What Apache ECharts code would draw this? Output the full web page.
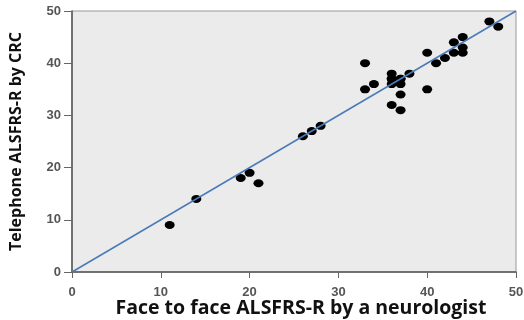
<!DOCTYPE html>
<html>
<head>
<meta charset="utf-8">
<script src="https://cdn.jsdelivr.net/npm/echarts@6/dist/echarts.min.js"></script>
<style>
  html, body { margin: 0; padding: 0; background: #fff; }
  #chart { width: 524px; height: 320px; }
</style>
</head>
<body>
<div id="chart"></div>
<script>
// face to face score (neurologist) vs telephone score (CRC)
var faceScores = [11, 14, 19, 20, 21, 26, 27, 28, 33, 33, 34, 36, 36, 36, 37, 37, 36, 37, 38, 37, 36, 37,
	40, 40, 41, 42, 43, 43, 44, 44, 44, 47, 48];
var phoneScores = [9, 14, 18, 19, 17, 26, 27, 28, 40, 35, 36, 38, 37, 36, 37, 36, 32, 31, 38, 34, 37, 37,
	42, 35, 40, 41, 44, 42, 45, 43, 42, 48, 47];
var identityLine = [[0, 0], [50, 50]];

var chartDom = document.getElementById('chart');
var myChart = echarts.init(chartDom);

var points = faceScores.map(function (x, i) { return [x, phoneScores[i]]; });

var axisLabelStyle = {
	color: '#555',
	fontWeight: 'bold',
	fontFamily: 'Liberation Sans',
	fontSize: 13
};

var option = {
	animation: false,
	grid: {
		left: 72, right: 8, top: 11, bottom: 48,
		outerBoundsMode: 'none',
		containLabel: false,
		show: true,
		backgroundColor: '#ebebeb',
		borderColor: '#999',
		borderWidth: 1
	},
	xAxis: {
		type: 'value',
		min: 0, max: 50, interval: 10,
		name: 'Face to face ALSFRS-R by a neurologist',
		nameLocation: 'middle',
		nameMoveOverlap: false,
		nameGap: 26,
		nameTextStyle: { color: '#111', fontWeight: 'bold', fontFamily: 'Open Sans', fontSize: 19.5, padding: [0, 0, 0, 14] },
		axisLine: { lineStyle: { color: '#555', width: 1.5 } },
		axisTick: { show: true, length: 6, lineStyle: { color: '#666' } },
		axisLabel: Object.assign({ margin: 14 }, axisLabelStyle),
		splitLine: { show: false }
	},
	yAxis: {
		type: 'value',
		min: 0, max: 50, interval: 10,
		name: 'Telephone ALSFRS-R by CRC',
		nameLocation: 'middle',
		nameMoveOverlap: false,
		nameGap: 48,
		nameTextStyle: { color: '#111', fontWeight: 'bold', fontFamily: 'Open Sans', fontSize: 16 },
		axisLine: { show: true, lineStyle: { color: '#555', width: 1.5 } },
		axisTick: { show: true, length: 8, lineStyle: { color: '#666' } },
		axisLabel: Object.assign({ margin: 11 }, axisLabelStyle),
		splitLine: { show: false }
	},
	series: [
		{
			type: 'line',
			data: identityLine,
			symbol: 'none',
			lineStyle: { color: '#4a7ab8', width: 1.5 },
			z: 3
		},
		{
			type: 'scatter',
			data: points,
			symbol: 'circle',
			symbolSize: [10, 8],
			itemStyle: { color: '#000', opacity: 1 },
			z: 2
		}
	]
};
option && myChart.setOption(option);
</script>
</body>
</html>
